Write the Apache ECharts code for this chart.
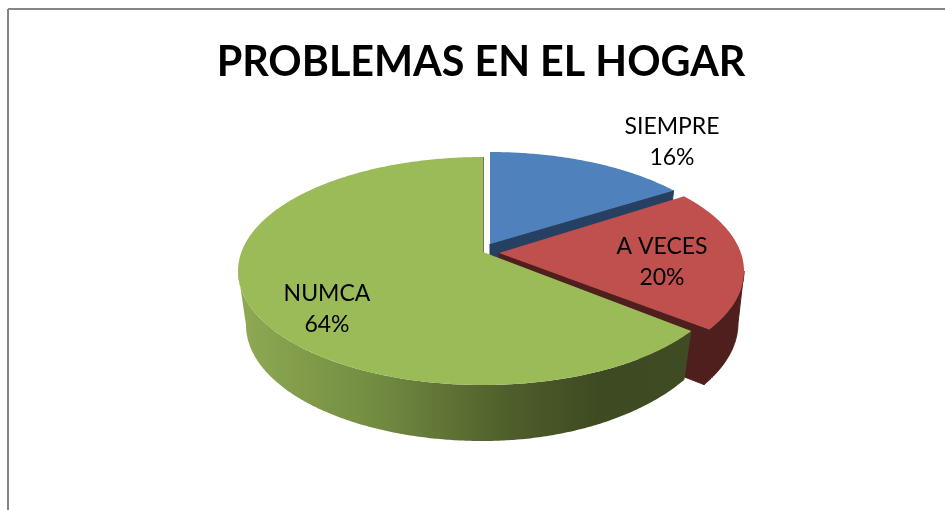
<!DOCTYPE html>
<html>
<head>
<meta charset="utf-8">
<style>
  html, body { margin: 0; padding: 0; background: #fff; }
  #chart { width: 945px; height: 510px; }
</style>
<script src="https://cdn.jsdelivr.net/npm/echarts@6/dist/echarts.min.js"></script>
</head>
<body>
<div id="chart"></div>
<script>
// datos
const categories = ["SIEMPRE", "A VECES", "NUMCA"];
const values = [16, 20, 64];

const font = "Lato, 'Noto Sans', sans-serif";
const topColors = ["#4F81BD", "#C0504D", "#9BBB59"];
const cutColors = ["#254061", "#4F1F1E", "#3F4B22"];
const sideColors = ["#254061", "#4F1F1E", null];

// geometria de cada porcion: elipse superior, elipse inferior, perspectiva y etiqueta
const slicePos = [
  { cx: 490, cy: 266, ry: 114, rxLow: 237, cyLow: 320, ryLow: 116, shear: 0, persp: 0.82, up: 22, lx: 672, ly: 142 },
  { cx: 499, cy: 271, ry: 114, rxLow: 239, cyLow: 323, ryLow: 120, shear: 0, persp: 0.83, up: 18, lx: 662, ly: 262 },
  { cx: 483, cy: 271, ry: 114, rxLow: 237, cyLow: 325, ryLow: 116, shear: 9, persp: 0.845, up: 19, lx: 327, ly: 309 },
];
const rx = 245;

const total = values.reduce((a, b) => a + b, 0);

// angulo real -> parametro sobre la elipse en perspectiva
function toRim(theta, persp) {
  return 2 * Math.atan2(persp * Math.sin(theta / 2), Math.cos(theta / 2));
}

function rimTop(p, t) {
  return [p.cx + rx * Math.sin(t), p.cy - p.ry * Math.cos(t)];
}

function rimLow(p, t) {
  const s = Math.max(0, Math.sin(t));
  return [p.cx + p.rxLow * Math.sin(t), p.cyLow - p.ryLow * Math.cos(t) - p.shear * s * s];
}

function arc(fn, p, a, b) {
  const pts = [];
  const steps = Math.max(2, Math.ceil(Math.abs(b - a) / 0.01));
  for (let i = 0; i <= steps; i++) {
    pts.push(fn(p, a + ((b - a) * i) / steps));
  }
  return pts;
}

function renderSlice(params, api) {
  const i = params.dataIndex;
  const p = slicePos[i];
  let before = 0;
  for (let k = 0; k < i; k++) before += values[k];
  const t0 = toRim((before / total) * Math.PI * 2, p.persp);
  const t1 = toRim(((before + api.value(0)) / total) * Math.PI * 2, p.persp);

  const apex = [p.cx, p.cy - p.up];
  const apexLow = [p.cx, p.cyLow - p.up];
  const children = [];

  // cara del corte (final de la porcion)
  children.push({
    type: "polygon",
    shape: { points: [apex, rimTop(p, t1), rimLow(p, t1), apexLow] },
    style: { fill: cutColors[i], stroke: cutColors[i], lineWidth: 1 },
  });

  // pared exterior, solo la parte que mira al frente
  const a = Math.max(t0, Math.PI / 2);
  const b = Math.min(t1, (Math.PI * 3) / 2);
  if (b > a) {
    const wall = arc(rimTop, p, a, b).concat(arc(rimLow, p, b, a));
    const solid = sideColors[i];
    children.push({
      type: "polygon",
      shape: { points: wall },
      style: {
        fill:
          solid ||
          new echarts.graphic.LinearGradient(1, 0, 0, 0, [
            { offset: 0, color: "#3F4B22" },
            { offset: 0.2, color: "#3E4A21" },
            { offset: 0.4, color: "#4E5E2B" },
            { offset: 0.7, color: "#738C42" },
            { offset: 1, color: "#8FAA52" },
          ]),
        stroke: solid || null,
        lineWidth: 1,
      },
    });
  }

  // cara superior
  children.push({
    type: "polygon",
    shape: { points: [apex].concat(arc(rimTop, p, t0, t1)) },
    style: { fill: topColors[i] },
  });

  // etiqueta
  children.push({
    type: "text",
    style: {
      text: categories[i] + "\n" + Math.round((api.value(0) / total) * 100) + "%",
      x: p.lx,
      y: p.ly,
      align: "center",
      verticalAlign: "middle",
      font: "23px " + font,
      lineHeight: 31,
      fill: "#000",
    },
  });

  return { type: "group", children: children };
}

const myChart = echarts.init(document.getElementById("chart"), null, { renderer: "canvas" });
myChart.setOption({
  animation: false,
  backgroundColor: "#fff",
  title: {
    text: "PROBLEMAS EN EL HOGAR",
    left: 476,
    top: 37,
    textAlign: "center",
    textStyle: { fontFamily: font, fontWeight: "bold", fontSize: 41.3, color: "#000" },
  },
  graphic: [
    { type: "line", shape: { x1: 8, y1: 9, x2: 945, y2: 9 }, style: { stroke: "#868686", lineWidth: 2 } },
    { type: "line", shape: { x1: 8, y1: 9, x2: 8, y2: 510 }, style: { stroke: "#868686", lineWidth: 2 } },
  ],
  series: [
    {
      type: "custom",
      coordinateSystem: "none",
      renderItem: renderSlice,
      data: values.map((v, i) => ({ name: categories[i], value: [v] })),
    },
  ],
});
</script>
</body>
</html>
